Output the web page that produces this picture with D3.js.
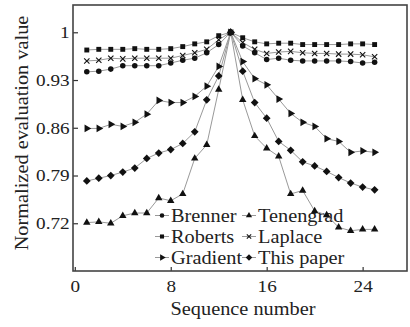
<!DOCTYPE html>
<html>
<head>
<meta charset="utf-8">
<script src="https://cdn.jsdelivr.net/npm/d3@7"></script>
<style>
  body { margin: 0; background: #fff; }
  text { font-family: "Liberation Serif", "Times New Roman", serif; fill: #222; }
</style>
</head>
<body>
<svg id="chart" width="410" height="327"></svg>
<script>
// Sequence numbers of the image frames
const sequence = d3.range(1, 26);

// Normalized focus measure for each frame
const brenner   = [0.942, 0.943, 0.946, 0.951, 0.951, 0.951, 0.951, 0.955, 0.959, 0.962, 0.970, 0.982, 1.000,
                   0.980, 0.970, 0.960, 0.962, 0.959, 0.958, 0.958, 0.958, 0.958, 0.957, 0.955, 0.956];
const roberts   = [0.974, 0.975, 0.975, 0.975, 0.976, 0.975, 0.975, 0.976, 0.979, 0.983, 0.986, 0.995, 1.000,
                   0.992, 0.986, 0.983, 0.984, 0.984, 0.982, 0.982, 0.982, 0.982, 0.983, 0.983, 0.982];
const gradient  = [0.859, 0.859, 0.865, 0.862, 0.868, 0.880, 0.900, 0.897, 0.897, 0.906, 0.921, 0.950, 1.000,
                   0.957, 0.932, 0.923, 0.902, 0.881, 0.868, 0.862, 0.844, 0.840, 0.824, 0.826, 0.824];
const tenengrad = [0.721, 0.722, 0.720, 0.731, 0.735, 0.735, 0.757, 0.753, 0.763, 0.815, 0.835, 0.916, 1.000,
                   0.901, 0.848, 0.830, 0.818, 0.763, 0.768, 0.738, 0.732, 0.714, 0.709, 0.711, 0.711];
const laplace   = [0.958, 0.959, 0.962, 0.961, 0.962, 0.962, 0.962, 0.962, 0.966, 0.970, 0.975, 0.989, 1.000,
                   0.985, 0.975, 0.969, 0.971, 0.972, 0.970, 0.969, 0.969, 0.968, 0.968, 0.967, 0.964];
const thisPaper = [0.782, 0.786, 0.790, 0.795, 0.801, 0.815, 0.823, 0.828, 0.837, 0.854, 0.901, 0.936, 1.000,
                   0.943, 0.897, 0.874, 0.840, 0.827, 0.810, 0.804, 0.796, 0.787, 0.779, 0.773, 0.769];

const xTicks = [0, 8, 16, 24];
const yTicks = [0.72, 0.79, 0.86, 0.93, 1];
const yTickLabels = ["0.72", "0.79", "0.86", "0.93", "1"];

const series = [
  { name: "Brenner",    values: brenner,   symbol: d3.symbolCircle,   size: 24, rotate: 0 },
  { name: "Roberts",    values: roberts,   symbol: d3.symbolSquare,   size: 24, rotate: 0 },
  { name: "Gradient",   values: gradient,  symbol: d3.symbolTriangle, size: 26, rotate: 90 },
  { name: "Tenengrad",  values: tenengrad, symbol: d3.symbolTriangle, size: 24, rotate: 0 },
  { name: "Laplace",    values: laplace,   symbol: d3.symbolTimes,    size: 20, rotate: 0, stroke: true },
  { name: "This paper", values: thisPaper, symbol: d3.symbolSquare,   size: 30, rotate: 45 }
];

const svg = d3.select("#chart");
const plot = { left: 73, right: 407, top: 5, bottom: 271 };
const STRETCH = 1.13;

const x = d3.scaleLinear().domain([-0.15, 27.7]).range([plot.left, plot.right]);
const y = d3.scaleLinear().domain([0.65, 1.04]).range([plot.bottom, plot.top]);

// Axes with inward ticks
const xAxis = svg.append("g")
  .attr("transform", `translate(0,${plot.bottom})`)
  .call(d3.axisBottom(x).tickValues(xTicks).tickSizeInner(-4).tickSizeOuter(0).tickPadding(9));
const yAxis = svg.append("g")
  .attr("transform", `translate(${plot.left},0)`)
  .call(d3.axisLeft(y).tickValues(yTicks).tickFormat((d, i) => yTickLabels[i])
        .tickSizeInner(-5).tickSizeOuter(0).tickPadding(3));

[xAxis, yAxis].forEach(ax => {
  ax.select(".domain").remove();
  ax.selectAll(".tick line").attr("stroke", "#333").attr("stroke-width", 1.2);
  ax.selectAll(".tick text")
    .attr("font-size", 17)
    .style("font-family", '"Liberation Serif", serif')
    .attr("fill", "#222")
    .attr("transform", `scale(${STRETCH},1)`);
});

// Plot frame
svg.append("rect")
  .attr("x", plot.left).attr("y", plot.top)
  .attr("width", plot.right - plot.left).attr("height", plot.bottom - plot.top)
  .attr("fill", "none").attr("stroke", "#444").attr("stroke-width", 1.6);

function stretchedText(tx, ty, str, size, extra) {
  return svg.append("text")
    .attr("transform", `translate(${tx},${ty}) ${extra || ""} scale(${STRETCH},1)`)
    .attr("font-size", size)
    .text(str);
}

// Axis titles
stretchedText(243, 315, "Sequence number", 18).attr("text-anchor", "middle");
stretchedText(28, 133, "Normalized evaluation value", 18, "rotate(-90)").attr("text-anchor", "middle");

function marker(g, s, cx, cy) {
  const path = d3.symbol().type(s.symbol).size(s.size)();
  const m = g.append("path")
    .attr("d", path)
    .attr("transform", `translate(${cx},${cy}) rotate(${s.rotate})`);
  if (s.stroke) m.attr("fill", "none").attr("stroke", "#111").attr("stroke-width", 1.1);
  else m.attr("fill", "#111");
}

// Legend, two columns of three entries
const legend = svg.append("g");
series.forEach((s, i) => {
  const col = Math.floor(i / 3), row = i % 3;
  const lx = col === 0 ? 155 : 242;
  const ly = 215.5 + row * 21;
  legend.append("line")
    .attr("x1", lx).attr("x2", lx + 14).attr("y1", ly).attr("y2", ly)
    .attr("stroke", "#999").attr("stroke-width", 1);
  marker(legend, { ...s, size: s.size * 0.7 }, lx + 7, ly);
  stretchedText(lx + 16, ly + 6, s.name, 18);
});

// Series lines and markers
const line = d3.line().x((d, i) => x(sequence[i])).y(d => y(d));
series.forEach(s => {
  svg.append("path")
    .datum(s.values)
    .attr("d", line)
    .attr("fill", "none")
    .attr("stroke", "#999")
    .attr("stroke-width", 1);
});
series.forEach(s => {
  const g = svg.append("g");
  s.values.forEach((v, i) => marker(g, s, x(sequence[i]), y(v)));
});
</script>
</body>
</html>
